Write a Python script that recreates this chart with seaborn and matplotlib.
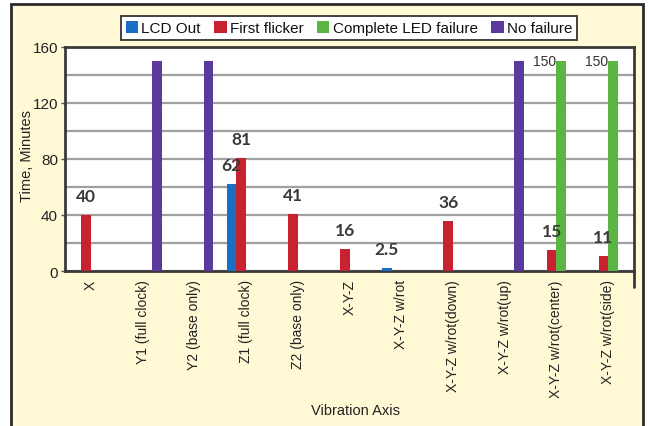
import numpy as np
import pandas as pd
import matplotlib
matplotlib.use("Agg")
import matplotlib.pyplot as plt
from matplotlib.patches import Rectangle
from matplotlib.lines import Line2D
from matplotlib.ticker import MultipleLocator, FixedLocator
import seaborn as sns

# Vibration test results: minutes until each failure mode
categories = ["X", "Y1 (full clock)", "Y2 (base only)", "Z1 (full clock)",
              "Z2 (base only)", "X-Y-Z", "X-Y-Z w/rot", "X-Y-Z w/rot(down)",
              "X-Y-Z w/rot(up)", "X-Y-Z w/rot(center)", "X-Y-Z w/rot(side)"]
series = ["LCD Out", "First flicker", "Complete LED failure", "No failure"]
lcd_out = [None, None, None, 62, None, None, 2.5, None, None, None, None]
first_flicker = [40, None, None, 81, 41, 16, None, 36, None, 15, 11]
complete_led = [None, None, None, None, None, None, None, None, None, 150, 150]
no_failure = [None, 150, 150, None, None, None, None, None, 150, None, None]
colors = ["#1a6fc4", "#c8212f", "#5cb543", "#5a3a9c"]

rows = []
for name, vals in zip(series, [lcd_out, first_flicker, complete_led, no_failure]):
    for cat, v in zip(categories, vals):
        if v is not None:
            rows.append({"axis": cat, "series": name, "minutes": v})
df = pd.DataFrame(rows)

sns.set_style("white")
plt.rcParams["font.family"] = ["Liberation Sans", "DejaVu Sans"]

fig = plt.figure(figsize=(6.5, 4.27), dpi=100, facecolor="white")
# cream panel with dark border
fig.add_artist(Rectangle((11 / 650, -0.05), (643 - 11) / 650, 1.05 - 5 / 427,
                         transform=fig.transFigure, facecolor="#fff9d6",
                         edgecolor="#2b2b2b", linewidth=2, zorder=-5))

ax = fig.add_axes([65 / 650, 1 - 272 / 427, (634 - 65) / 650, (272 - 48) / 427])
ax.set_facecolor("white")

sns.barplot(data=df, x="axis", y="minutes", hue="series", order=categories,
            hue_order=series, palette=dict(zip(series, colors)),
            width=0.74, saturation=1, errorbar=None, linewidth=0, ax=ax,
            zorder=3)

ax.set_ylim(0, 160)
ax.set_xlim(-0.5, len(categories) - 0.5)
ax.yaxis.set_major_locator(MultipleLocator(40))
ax.yaxis.set_minor_locator(MultipleLocator(20))
ax.grid(True, which="both", axis="y", color="#a0a0a0", linewidth=1.6, zorder=0)
ax.set_axisbelow(True)

for side in ["top", "right", "left", "bottom"]:
    ax.spines[side].set_color("#3a3a3a")
    ax.spines[side].set_linewidth(2)
ax.add_line(Line2D([1, 1], [0, -0.07], transform=ax.transAxes, color="#3a3a3a",
                   linewidth=2, clip_on=False))

ax.xaxis.set_minor_locator(FixedLocator(np.arange(0.5, len(categories) - 1, 1)))
ax.tick_params(axis="x", which="major", length=0, pad=6, labelsize=10,
               labelcolor="#222222", labelrotation=90)
ax.tick_params(axis="x", which="minor", length=5, width=1, color="#aaaaaa",
               direction="out")
ax.tick_params(axis="y", which="major", length=3, width=1, color="#555555",
               labelsize=11, labelcolor="#222222", pad=2, left=True)
ax.tick_params(axis="y", which="minor", length=0)
for lbl in ax.get_xticklabels():
    lbl.set_verticalalignment("top")
    lbl.set_horizontalalignment("center")

ax.set_xlabel("Vibration Axis", fontsize=10.5, color="#222222")
ax.xaxis.set_label_coords(0.51, -0.59)
ax.set_ylabel("Time, Minutes", fontsize=10.5, color="#222222")
ax.yaxis.set_label_coords(-0.055, 0.52)

# value labels
for name, cont in zip(series, ax.containers):
    if name == "No failure":
        continue
    for bar in cont:
        h = bar.get_height()
        if np.isnan(h):
            continue
        txt = f"{h:g}"
        if name == "Complete LED failure":
            ax.annotate(txt, (bar.get_x(), h), xytext=(0, 0),
                        textcoords="offset points", ha="right", va="center",
                        fontsize=10, color="#333333", zorder=5)
        else:
            ax.annotate(txt, (bar.get_x() + bar.get_width() / 2, h),
                        xytext=(0, 13.5), textcoords="offset points",
                        ha="center", va="center", fontsize=12.5,
                        fontweight="bold", color="#3a3a3a", zorder=5,
                        family=["Lato", "DejaVu Sans"])

handles, labels = ax.get_legend_handles_labels()
if ax.get_legend() is not None:
    ax.get_legend().remove()
leg = fig.legend(handles, labels, loc="center", bbox_to_anchor=(349 / 650, 1 - 29 / 427),
                 ncol=4, fontsize=11, frameon=True, fancybox=False,
                 handlelength=0.8, handleheight=0.8, handletextpad=0.2,
                 columnspacing=0.9, borderpad=0.3, labelcolor="#111111")
leg.get_frame().set_edgecolor("#333333")
leg.get_frame().set_linewidth(1.3)
leg.get_frame().set_facecolor("white")
leg.get_frame().set_alpha(1)

fig.savefig("out.png", dpi=100, facecolor=fig.get_facecolor())
